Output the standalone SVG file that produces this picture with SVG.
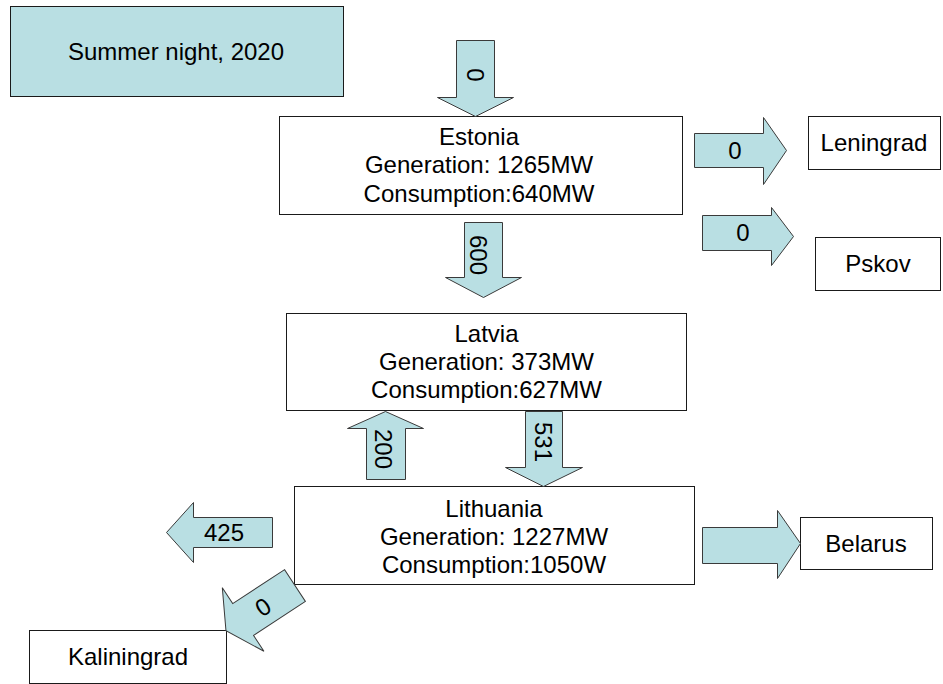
<svg xmlns="http://www.w3.org/2000/svg" width="943" height="684" viewBox="0 0 943 684">
  <style>
    .box { fill: #ffffff; stroke: #1a1a1a; stroke-width: 1; }
    .note { fill: #b9dfe3; stroke: #1a1a1a; stroke-width: 1; }
    .flow { fill: #b9dfe3; stroke: #3a3a3a; stroke-width: 1; stroke-linejoin: miter; }
    text { font-family: "Liberation Sans", Arial, sans-serif; font-size: 24px; fill: #000000; text-anchor: middle; }
  </style>
  <rect width="943" height="684" fill="#ffffff"/>

  <g id="title">
    <rect class="note" x="10.5" y="6.5" width="333" height="90"/>
    <text x="176" y="60">Summer night, 2020</text>
  </g>

  <g id="estonia">
    <rect class="box" x="279.5" y="116.5" width="403" height="98"/>
    <text x="479" y="145">Estonia</text>
    <text x="479" y="173">Generation: 1265MW</text>
    <text x="479" y="202">Consumption:640MW</text>
  </g>

  <g id="latvia">
    <rect class="box" x="286.5" y="313.5" width="400" height="97"/>
    <text x="486.5" y="342">Latvia</text>
    <text x="486.5" y="370">Generation: 373MW</text>
    <text x="486.5" y="398">Consumption:627MW</text>
  </g>

  <g id="lithuania">
    <rect class="box" x="294.5" y="486.5" width="400" height="98"/>
    <text x="494" y="517">Lithuania</text>
    <text x="494" y="545">Generation: 1227MW</text>
    <text x="494" y="573">Consumption:1050W</text>
  </g>

  <g id="leningrad">
    <rect class="box" x="808.5" y="116.5" width="132" height="53"/>
    <text x="874" y="151">Leningrad</text>
  </g>

  <g id="pskov">
    <rect class="box" x="815.5" y="237.5" width="125" height="53"/>
    <text x="878" y="272">Pskov</text>
  </g>

  <g id="belarus">
    <rect class="box" x="800.5" y="517.5" width="132" height="52"/>
    <text x="866" y="552">Belarus</text>
  </g>

  <g id="kaliningrad">
    <rect class="box" x="29.5" y="630.5" width="197" height="53"/>
    <text x="128" y="665">Kaliningrad</text>
  </g>

  <g id="connectors">
    <!-- inflow into Estonia from the north -->
    <g>
      <polygon class="flow" points="456.5,40.5 494.5,40.5 494.5,97.5 513.5,97.5 475.5,116.5 437.5,97.5 456.5,97.5"/>
      <text transform="translate(475,75) rotate(90)" y="8.5">0</text>
    </g>
    <!-- Estonia to Latvia -->
    <g>
      <polygon class="flow" points="464.5,222.5 502.5,222.5 502.5,277.5 521.5,277.5 483.5,297.5 445.5,277.5 464.5,277.5"/>
      <text transform="translate(478,255) rotate(90)" y="8.5">600</text>
    </g>
    <!-- Estonia to Leningrad -->
    <g>
      <polygon class="flow" points="694.5,133.5 763.5,133.5 763.5,117.5 786.5,150.5 763.5,184.5 763.5,167.5 694.5,167.5"/>
      <text x="735" y="159">0</text>
    </g>
    <!-- Estonia to Pskov -->
    <g>
      <polygon class="flow" points="702.5,215.5 771.5,215.5 771.5,207.5 793.5,236.5 771.5,265.5 771.5,250.5 702.5,250.5"/>
      <text x="743" y="241">0</text>
    </g>
    <!-- Lithuania to Latvia -->
    <g>
      <polygon class="flow" points="366.5,479.5 405.5,479.5 405.5,428.5 423.5,428.5 385.5,411.5 347.5,428.5 366.5,428.5"/>
      <text transform="translate(383,449) rotate(90)" y="8.5">200</text>
    </g>
    <!-- Latvia to Lithuania -->
    <g>
      <polygon class="flow" points="525.5,411.5 562.5,411.5 562.5,467.5 582.5,467.5 543.5,486.5 505.5,467.5 525.5,467.5"/>
      <text transform="translate(543,442) rotate(90)" y="8.5">531</text>
    </g>
    <!-- Lithuania westward -->
    <g>
      <polygon class="flow" points="272.5,517.5 193.5,517.5 193.5,502.5 166.5,532.5 193.5,562.5 193.5,547.5 272.5,547.5"/>
      <text x="224" y="541">425</text>
    </g>
    <!-- Lithuania to Kaliningrad -->
    <g>
      <polygon class="flow" transform="translate(295,585.5) rotate(146.8)" points="0,-19 62,-19 62,-38 82.5,0 62,38 62,19 0,19"/>
      <text transform="translate(263,607) rotate(-33)" y="8.5">0</text>
    </g>
    <!-- Lithuania to Belarus -->
    <g>
      <polygon class="flow" points="702.5,527.5 777.5,527.5 777.5,510.5 800.5,543.5 777.5,578.5 777.5,563.5 702.5,563.5"/>
    </g>
  </g>
</svg>
